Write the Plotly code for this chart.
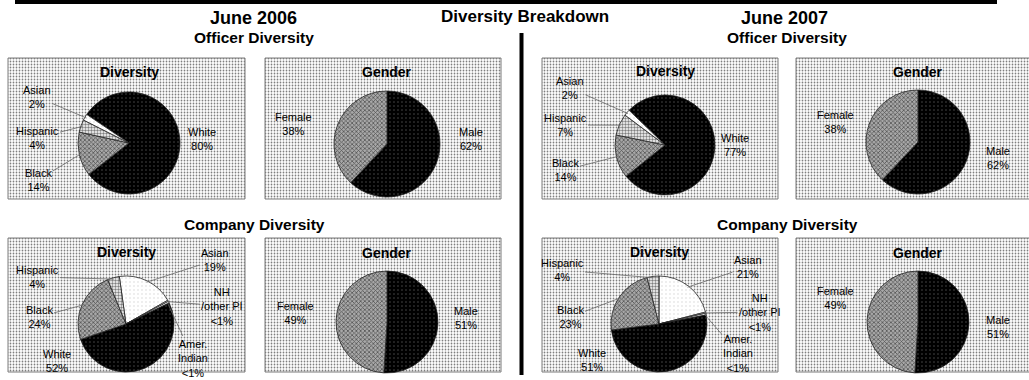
import math
import plotly.graph_objects as go

W, H = 1029, 380

# ---------------- data ----------------
officer_div_labels = ["White", "Black", "Hispanic", "Asian"]
officer06_div_values = [80, 14, 4, 2]
officer07_div_values = [77, 14, 7, 2]

gender_labels = ["Male", "Female"]
officer06_gender_values = [62, 38]
officer07_gender_values = [62, 38]

company_div_labels = ["Asian", "NH<br>/other PI", "Amer.<br>Indian", "White", "Black", "Hispanic"]
company06_div_values = [19, 0.4, 0.6, 52, 24, 4]
company07_div_values = [21, 0.4, 0.6, 51, 23, 4]

company06_gender_values = [51, 49]
company07_gender_values = [51, 49]

# ---------------- styles ----------------
FONT = "Arial, Liberation Sans, sans-serif"
DARK = dict(color="#000000", shape=".", fg="#9a9a9a", size=4, sol=0.12)
HATCH = dict(color="#a8a8a8", shape="x", fg="#000000", size=3, sol=0.45)
DOTS = dict(color="#ffffff", shape=".", fg="#000000", size=3, sol=0.5)
LIGHT = dict(color="#ffffff", shape=".", fg="#9a9a9a", size=4, sol=0.08)
STYLE = {
    "White": DARK, "Male": DARK,
    "Black": HATCH, "Female": HATCH,
    "Hispanic": DOTS,
    "Asian": LIGHT, "NH<br>/other PI": LIGHT, "Amer.<br>Indian": LIGHT,
}

fig = go.Figure()

# panel backgrounds (dotted boxes)
panels = [(8, 58, 245, 199), (265, 58, 501, 199), (542, 58, 778, 199), (796, 58, 1032, 199),
          (8, 238, 245, 372), (265, 238, 501, 372), (542, 238, 778, 372), (796, 238, 1032, 372)]
for (x0, y0, x1, y1) in panels:
    fig.add_trace(go.Scatter(
        x=[x0, x1, x1, x0, x0], y=[y0, y0, y1, y1, y0], mode="lines",
        fill="toself", fillcolor="#ffffff",
        fillpattern=dict(shape=".", fgcolor="#000000", bgcolor="#ffffff", size=3, solidity=0.27),
        line=dict(color="#7a7a7a", width=1), hoverinfo="skip", showlegend=False))


def add_pie(labels, values, cx, cy, r, rot, pos, leaders, title, ty):
    st = [STYLE[l] for l in labels]
    fig.add_trace(go.Pie(
        labels=labels, values=values, sort=False, direction="clockwise", rotation=rot,
        domain=dict(x=[(cx - r) / W, (cx + r) / W], y=[1 - (cy + r) / H, 1 - (cy - r) / H]),
        textinfo="none", hoverinfo="label+percent", showlegend=False,
        marker=dict(colors=[s["color"] for s in st],
                    line=dict(color="#222222", width=0.8),
                    pattern=dict(shape=[s["shape"] for s in st], fgcolor=[s["fg"] for s in st],
                                 size=[s["size"] for s in st], solidity=[s["sol"] for s in st],
                                 fillmode="overlay"))))
    fig.add_annotation(x=cx / W, y=1 - ty / H, xref="paper", yref="paper", text="<b>%s</b>" % title,
                       xanchor="center", yanchor="middle",
                       showarrow=False, font=dict(family=FONT, size=14, color="black"))
    total = float(sum(values))
    cum = 0.0
    for lab, v, (lx, ly), lead in zip(labels, values, pos, leaders):
        mid = math.radians(90 - rot - 360.0 * (cum + v / 2.0) / total)
        cum += v
        pct = "<1%" if v < 1 else "%g%%" % v
        text = "%s<br>%s" % (lab, pct)
        f = dict(family=FONT, size=11, color="black")
        if lead:
            tx = cx + r * 0.97 * math.cos(mid)
            tyy = cy - r * 0.97 * math.sin(mid)
            fig.add_annotation(x=tx / W, y=1 - tyy / H, xref="paper", yref="paper",
                               ax=lx - tx, ay=ly - tyy, text=text, showarrow=True,
                               arrowhead=0, arrowwidth=0.8, arrowcolor="#666666",
                               font=f, align="center")
        else:
            fig.add_annotation(x=lx / W, y=1 - ly / H, xref="paper", yref="paper",
                               xanchor="center", yanchor="middle",
                               text=text, showarrow=False, font=f, align="center")


# Officer 2006
add_pie(officer_div_labels, officer06_div_values, 129, 143, 51, -56,
        [(202, 139), (38, 180), (37, 138), (37, 97)], [False, True, True, True], "Diversity", 72)
add_pie(gender_labels, officer06_gender_values, 387, 144, 53, 0,
        [(471, 139), (293, 124)], [False, False], "Gender", 72)
# Officer 2007
add_pie(officer_div_labels, officer07_div_values, 665, 145, 50, -46,
        [(735, 145), (565, 170), (565, 125), (570, 88)], [False, True, True, True], "Diversity", 71)
add_pie(gender_labels, officer07_gender_values, 918, 142, 52, 0,
        [(998, 158), (835, 122)], [False, False], "Gender", 72)
# Company 2006
add_pie(company_div_labels, company06_div_values, 126, 324, 48, -8,
        [(215, 260), (222, 306), (193, 358), (57, 361), (39, 317), (37, 277)],
        [True, True, True, False, True, True], "Diversity", 252)
add_pie(gender_labels, company06_gender_values, 387, 322, 51, 0,
        [(466, 318), (295, 313)], [False, False], "Gender", 253)
# Company 2007
add_pie(company_div_labels, company07_div_values, 659, 324, 48, 0,
        [(748, 267), (760, 312), (738, 353), (592, 360), (570, 317), (562, 270)],
        [True, True, True, False, True, True], "Diversity", 252)
add_pie(gender_labels, company07_gender_values, 918, 322, 51, 0,
        [(998, 327), (835, 298)], [False, False], "Gender", 253)

# headings
heads = [("June 2006", 253, 18, 18), ("Diversity Breakdown", 525, 16, 17), ("June 2007", 784, 18, 18),
         ("Officer Diversity", 254, 38, 15.5), ("Officer Diversity", 787, 38, 15.5),
         ("Company Diversity", 254, 225, 15.5), ("Company Diversity", 787, 225, 15.5)]
for t, x, y, s in heads:
    fig.add_annotation(x=x / W, y=1 - y / H, xref="paper", yref="paper", text="<b>%s</b>" % t,
                       xanchor="center", yanchor="middle",
                       showarrow=False, font=dict(family=FONT, size=s, color="black"))

# top rule and divider
fig.add_shape(type="rect", xref="x", yref="y", x0=15, x1=997, y0=0, y1=4,
              fillcolor="black", line=dict(width=0))
fig.add_shape(type="rect", xref="x", yref="y", x0=519.5, x1=523.5, y0=33, y1=375,
              fillcolor="black", line=dict(width=0))

fig.update_xaxes(range=[0, W], visible=False, fixedrange=True)
fig.update_yaxes(range=[H, 0], visible=False, fixedrange=True)
fig.update_layout(width=W, height=H, margin=dict(l=0, r=0, t=0, b=0),
                  plot_bgcolor="white", paper_bgcolor="white")

fig.write_html("out.html")
